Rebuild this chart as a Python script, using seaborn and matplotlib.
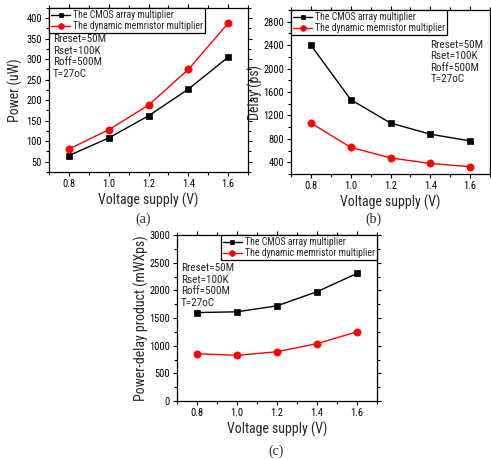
import matplotlib
matplotlib.use("Agg")
import matplotlib.pyplot as plt
import seaborn as sns
from matplotlib.ticker import AutoMinorLocator, MultipleLocator

# data
voltage = [0.8, 1.0, 1.2, 1.4, 1.6]

power_cmos = [65, 108, 162, 227, 305]
power_mem = [81, 128, 188, 275, 388]

delay_cmos = [2400, 1470, 1070, 880, 765]
delay_mem = [1070, 655, 475, 380, 325]

pdp_cmos = [1598, 1612, 1720, 1975, 2305]
pdp_mem = [855, 825, 890, 1037, 1250]

series_names = ["The CMOS array multiplier", "The dynamic memristor multiplier"]
conditions = "Rreset=50M\nRset=100K\nRoff=500M\nT=27oC"

sns.set_style("ticks")
plt.rcParams["font.family"] = ["Roboto Condensed", "Liberation Sans", "DejaVu Sans"]

W, H = 491, 459
fig = plt.figure(figsize=(W / 100, H / 100), dpi=100)


def box(left, top, right, bottom):
    # pixel box -> figure fraction
    return [left / W, 1 - bottom / H, (right - left) / W, (bottom - top) / H]


def draw_panel(ax, cmos, mem, ylabel, ylim, ystep, legend_loc, label_x):
    sns.lineplot(x=voltage, y=cmos, ax=ax, color="black", marker="s",
                 markersize=4.2, markeredgewidth=0.5, markeredgecolor="black",
                 linewidth=1, legend=False)
    sns.lineplot(x=voltage, y=mem, ax=ax, color="red", marker="o",
                 markersize=5.2, markeredgewidth=0.5, markeredgecolor="red",
                 linewidth=1, legend=False)
    ax.set_xlim(0.7, 1.7)
    ax.set_ylim(*ylim)
    ax.yaxis.set_major_locator(MultipleLocator(ystep))
    ax.xaxis.set_minor_locator(AutoMinorLocator(2))
    ax.yaxis.set_minor_locator(AutoMinorLocator(2))
    ax.set_xticks(voltage)
    ax.set_xticklabels(["%.1f" % v for v in voltage])
    ax.tick_params(which="both", direction="out", top=True, right=True,
                   labelsize=7.5, width=0.8, colors="black", pad=2)
    ax.tick_params(which="major", length=3)
    ax.tick_params(which="minor", length=2)
    for s in ax.spines.values():
        s.set_visible(True)
        s.set_color("black")
        s.set_linewidth(0.9)
    ax.set_xlabel("Voltage supply (V)", fontsize=10, labelpad=3)
    ax.set_ylabel(ylabel, fontsize=10)
    ax.yaxis.set_label_coords(label_x, 0.5)
    leg = ax.legend(ax.get_lines()[:2], series_names, loc=legend_loc,
                    fontsize=7, frameon=True, fancybox=False, markerscale=0.8,
                    borderaxespad=0, borderpad=0.2, handlelength=2.0,
                    handletextpad=0.3, labelspacing=0.1)
    leg.get_frame().set_edgecolor("black")
    leg.get_frame().set_linewidth(0.9)
    leg.get_frame().set_alpha(1)


ax_a = fig.add_axes(box(49, 8, 248, 172))
draw_panel(ax_a, power_cmos, power_mem, "Power (uW)", (25, 425), 50, "upper left", -0.13)
ax_a.text(0.02, 0.84, conditions, transform=ax_a.transAxes, fontsize=8,
          va="top", ha="left", linespacing=1.2)

ax_b = fig.add_axes(box(291, 10, 490, 174))
draw_panel(ax_b, delay_cmos, delay_mem, "Delay (ps)", (200, 3000), 400, "upper left", -0.14)
ax_b.text(0.70, 0.82, conditions, transform=ax_b.transAxes, fontsize=8,
          va="top", ha="left", linespacing=1.2)

ax_c = fig.add_axes(box(177, 235, 377, 401))
draw_panel(ax_c, pdp_cmos, pdp_mem, "Power-delay product (mWXps)", (0, 3000), 500, "upper right", -0.14)
ax_c.text(0.02, 0.83, conditions, transform=ax_c.transAxes, fontsize=8,
          va="top", ha="left", linespacing=1.2)

cap = dict(fontsize=10, family=["Liberation Serif", "DejaVu Serif"], ha="center", va="center")
fig.text(143 / W, 1 - 219 / H, "(a)", **cap)
fig.text(373 / W, 1 - 219 / H, "(b)", **cap)
fig.text(276 / W, 1 - 451 / H, "(c)", **cap)

fig.savefig("out.png", dpi=100)
